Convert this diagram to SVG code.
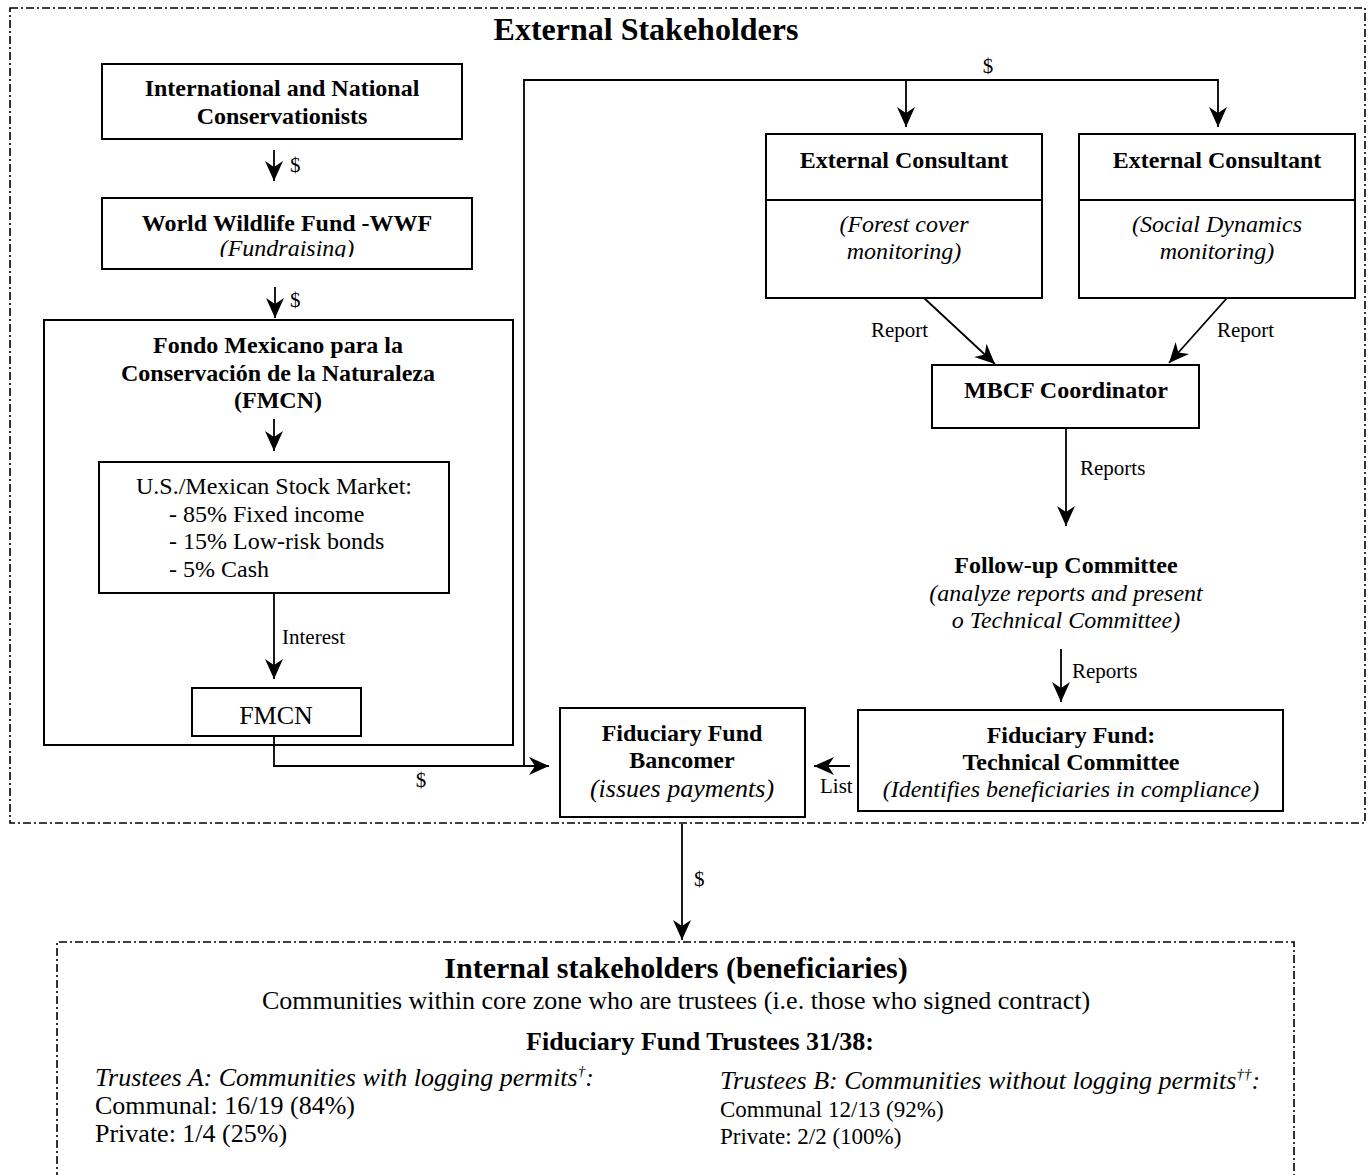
<svg xmlns="http://www.w3.org/2000/svg" width="1369" height="1175" viewBox="0 0 1369 1175">
<style>
text{font-family:"Liberation Serif","Times New Roman",serif;fill:#000}
.b{font-weight:bold;font-size:24px;text-anchor:middle}
.i{font-style:italic;font-size:24px;text-anchor:middle}
.r{font-size:24px}
.lbl{font-size:21px}
.box{fill:#fff;stroke:#000;stroke-width:2}
.ln{fill:none;stroke:#000;stroke-width:1.8}
.dash{fill:none;stroke:#000;stroke-width:1.6;stroke-dasharray:8 3 2 3}
</style>
<defs>
<marker id="ah" markerUnits="userSpaceOnUse" markerWidth="24" markerHeight="22" viewBox="-22 -11 24 22" refX="0" refY="0" orient="auto">
<path d="M0,0 L-20,-9 L-14,0 L-20,9 Z" fill="#000"/>
</marker>
<clipPath id="wwfclip"><rect x="100" y="196" width="380" height="61"/></clipPath>
</defs>
<rect width="1369" height="1175" fill="#fff"/>

<g id="external-stakeholders">
<rect class="dash" x="10" y="8" width="1355" height="815"/>
<text x="646" y="40" style="font-weight:bold;font-size:32px;text-anchor:middle">External Stakeholders</text>
</g>

<g id="connectors">
<line class="ln" x1="274" y1="150" x2="274" y2="181" marker-end="url(#ah)"/>
<text class="lbl" x="290" y="172">$</text>
<line class="ln" x1="275" y1="287" x2="275" y2="318" marker-end="url(#ah)"/>
<text class="lbl" x="290" y="307">$</text>
<line class="ln" x1="274" y1="419" x2="274" y2="451" marker-end="url(#ah)"/>
<line class="ln" x1="274" y1="593" x2="274" y2="679" marker-end="url(#ah)"/>
<text class="lbl" x="282" y="644">Interest</text>
<path class="ln" d="M274,736 V766 H549" marker-end="url(#ah)"/>
<text class="lbl" x="421" y="787" text-anchor="middle">$</text>
<path class="ln" d="M524,766 V80 H1218 V127" marker-end="url(#ah)"/>
<line class="ln" x1="906" y1="80" x2="906" y2="127" marker-end="url(#ah)"/>
<text class="lbl" x="988" y="73" text-anchor="middle">$</text>
<line class="ln" x1="924" y1="298" x2="995" y2="364" marker-end="url(#ah)"/>
<text class="lbl" x="871" y="337">Report</text>
<line class="ln" x1="1227" y1="298" x2="1169" y2="363" marker-end="url(#ah)"/>
<text class="lbl" x="1217" y="337">Report</text>
<line class="ln" x1="1066" y1="428" x2="1066" y2="526" marker-end="url(#ah)"/>
<text class="lbl" x="1080" y="475">Reports</text>
<line class="ln" x1="1061" y1="649" x2="1061" y2="702" marker-end="url(#ah)"/>
<text class="lbl" x="1072" y="678">Reports</text>
<line class="ln" x1="850" y1="766" x2="814" y2="766" marker-end="url(#ah)"/>
<text class="lbl" x="820" y="793">List</text>
<line class="ln" x1="682" y1="824" x2="682" y2="940" marker-end="url(#ah)"/>
<text class="lbl" x="694" y="886">$</text>
</g>

<g id="conservationists">
<rect class="box" x="102" y="64" width="360" height="75"/>
<text class="b" x="282" y="96">International and National</text>
<text class="b" x="282" y="124">Conservationists</text>
</g>

<g id="wwf">
<rect class="box" x="102" y="198" width="370" height="71"/>
<text class="b" x="287" y="231">World Wildlife Fund -WWF</text>
<text class="i" x="287" y="256" clip-path="url(#wwfclip)">(Fundraising)</text>
</g>

<g id="fmcn-outer">
<rect class="ln" style="stroke-width:2" x="44" y="320" width="469" height="425"/>
<text class="b" x="278" y="353">Fondo Mexicano para la</text>
<text class="b" x="278" y="381">Conservación de la Naturaleza</text>
<text class="b" x="278" y="408">(FMCN)</text>
</g>

<g id="stock-market">
<rect class="box" x="99" y="462" width="350" height="131"/>
<text class="r" x="274" y="494" text-anchor="middle">U.S./Mexican Stock Market:</text>
<text class="r" x="169" y="522">- 85% Fixed income</text>
<text class="r" x="169" y="549">- 15% Low-risk bonds</text>
<text class="r" x="169" y="577">- 5% Cash</text>
</g>

<g id="fmcn">
<rect class="box" x="192" y="688" width="169" height="48"/>
<text x="276" y="724" style="font-size:26px;text-anchor:middle">FMCN</text>
</g>

<g id="consultant-forest">
<rect class="box" x="766" y="134" width="276" height="164"/>
<line class="ln" style="stroke-width:2" x1="766" y1="200" x2="1042" y2="200"/>
<text class="b" x="904" y="168">External Consultant</text>
<text class="i" x="904" y="232">(Forest cover</text>
<text class="i" x="904" y="259">monitoring)</text>
</g>

<g id="consultant-social">
<rect class="box" x="1079" y="134" width="276" height="164"/>
<line class="ln" style="stroke-width:2" x1="1079" y1="200" x2="1355" y2="200"/>
<text class="b" x="1217" y="168">External Consultant</text>
<text class="i" x="1217" y="232">(Social Dynamics</text>
<text class="i" x="1217" y="259">monitoring)</text>
</g>

<g id="mbcf-coordinator">
<rect class="box" x="932" y="365" width="267" height="63"/>
<text class="b" x="1066" y="398">MBCF Coordinator</text>
</g>

<g id="follow-up-committee">
<text class="b" x="1066" y="573">Follow-up Committee</text>
<text class="i" x="1066" y="601">(analyze reports and present</text>
<text class="i" x="1066" y="628">o Technical Committee)</text>
</g>

<g id="technical-committee">
<rect class="box" x="858" y="710" width="425" height="101"/>
<text class="b" x="1071" y="743">Fiduciary Fund:</text>
<text class="b" x="1071" y="770">Technical Committee</text>
<text class="i" x="1071" y="797">(Identifies beneficiaries in compliance)</text>
</g>

<g id="bancomer">
<rect class="box" x="560" y="708" width="245" height="109"/>
<text class="b" x="682" y="741">Fiduciary Fund</text>
<text class="b" x="682" y="768">Bancomer</text>
<text class="i" x="682" y="797" style="font-size:26px">(issues payments)</text>
</g>

<g id="internal-stakeholders">
<path class="dash" d="M57,1180 V942 H1294 V1180"/>
<text x="676" y="978" style="font-weight:bold;font-size:30px;text-anchor:middle">Internal stakeholders (beneficiaries)</text>
<text x="676" y="1009" style="font-size:26px;text-anchor:middle">Communities within core zone who are trustees (i.e. those who signed contract)</text>
<text x="700" y="1050" style="font-weight:bold;font-size:26px;text-anchor:middle">Fiduciary Fund Trustees 31/38:</text>
<text x="95" y="1086" style="font-style:italic;font-size:26px">Trustees A: Communities with logging permits<tspan font-size="15" dy="-10">†</tspan><tspan dy="10">:</tspan></text>
<text x="95" y="1114" style="font-size:26px">Communal: 16/19 (84%)</text>
<text x="95" y="1142" style="font-size:26px">Private: 1/4 (25%)</text>
<text x="720" y="1089" style="font-style:italic;font-size:26px">Trustees B: Communities without logging permits<tspan font-size="15" dy="-10">††</tspan><tspan dy="10">:</tspan></text>
<text x="720" y="1117" style="font-size:23px">Communal 12/13 (92%)</text>
<text x="720" y="1144" style="font-size:23px">Private: 2/2 (100%)</text>
</g>
</svg>
